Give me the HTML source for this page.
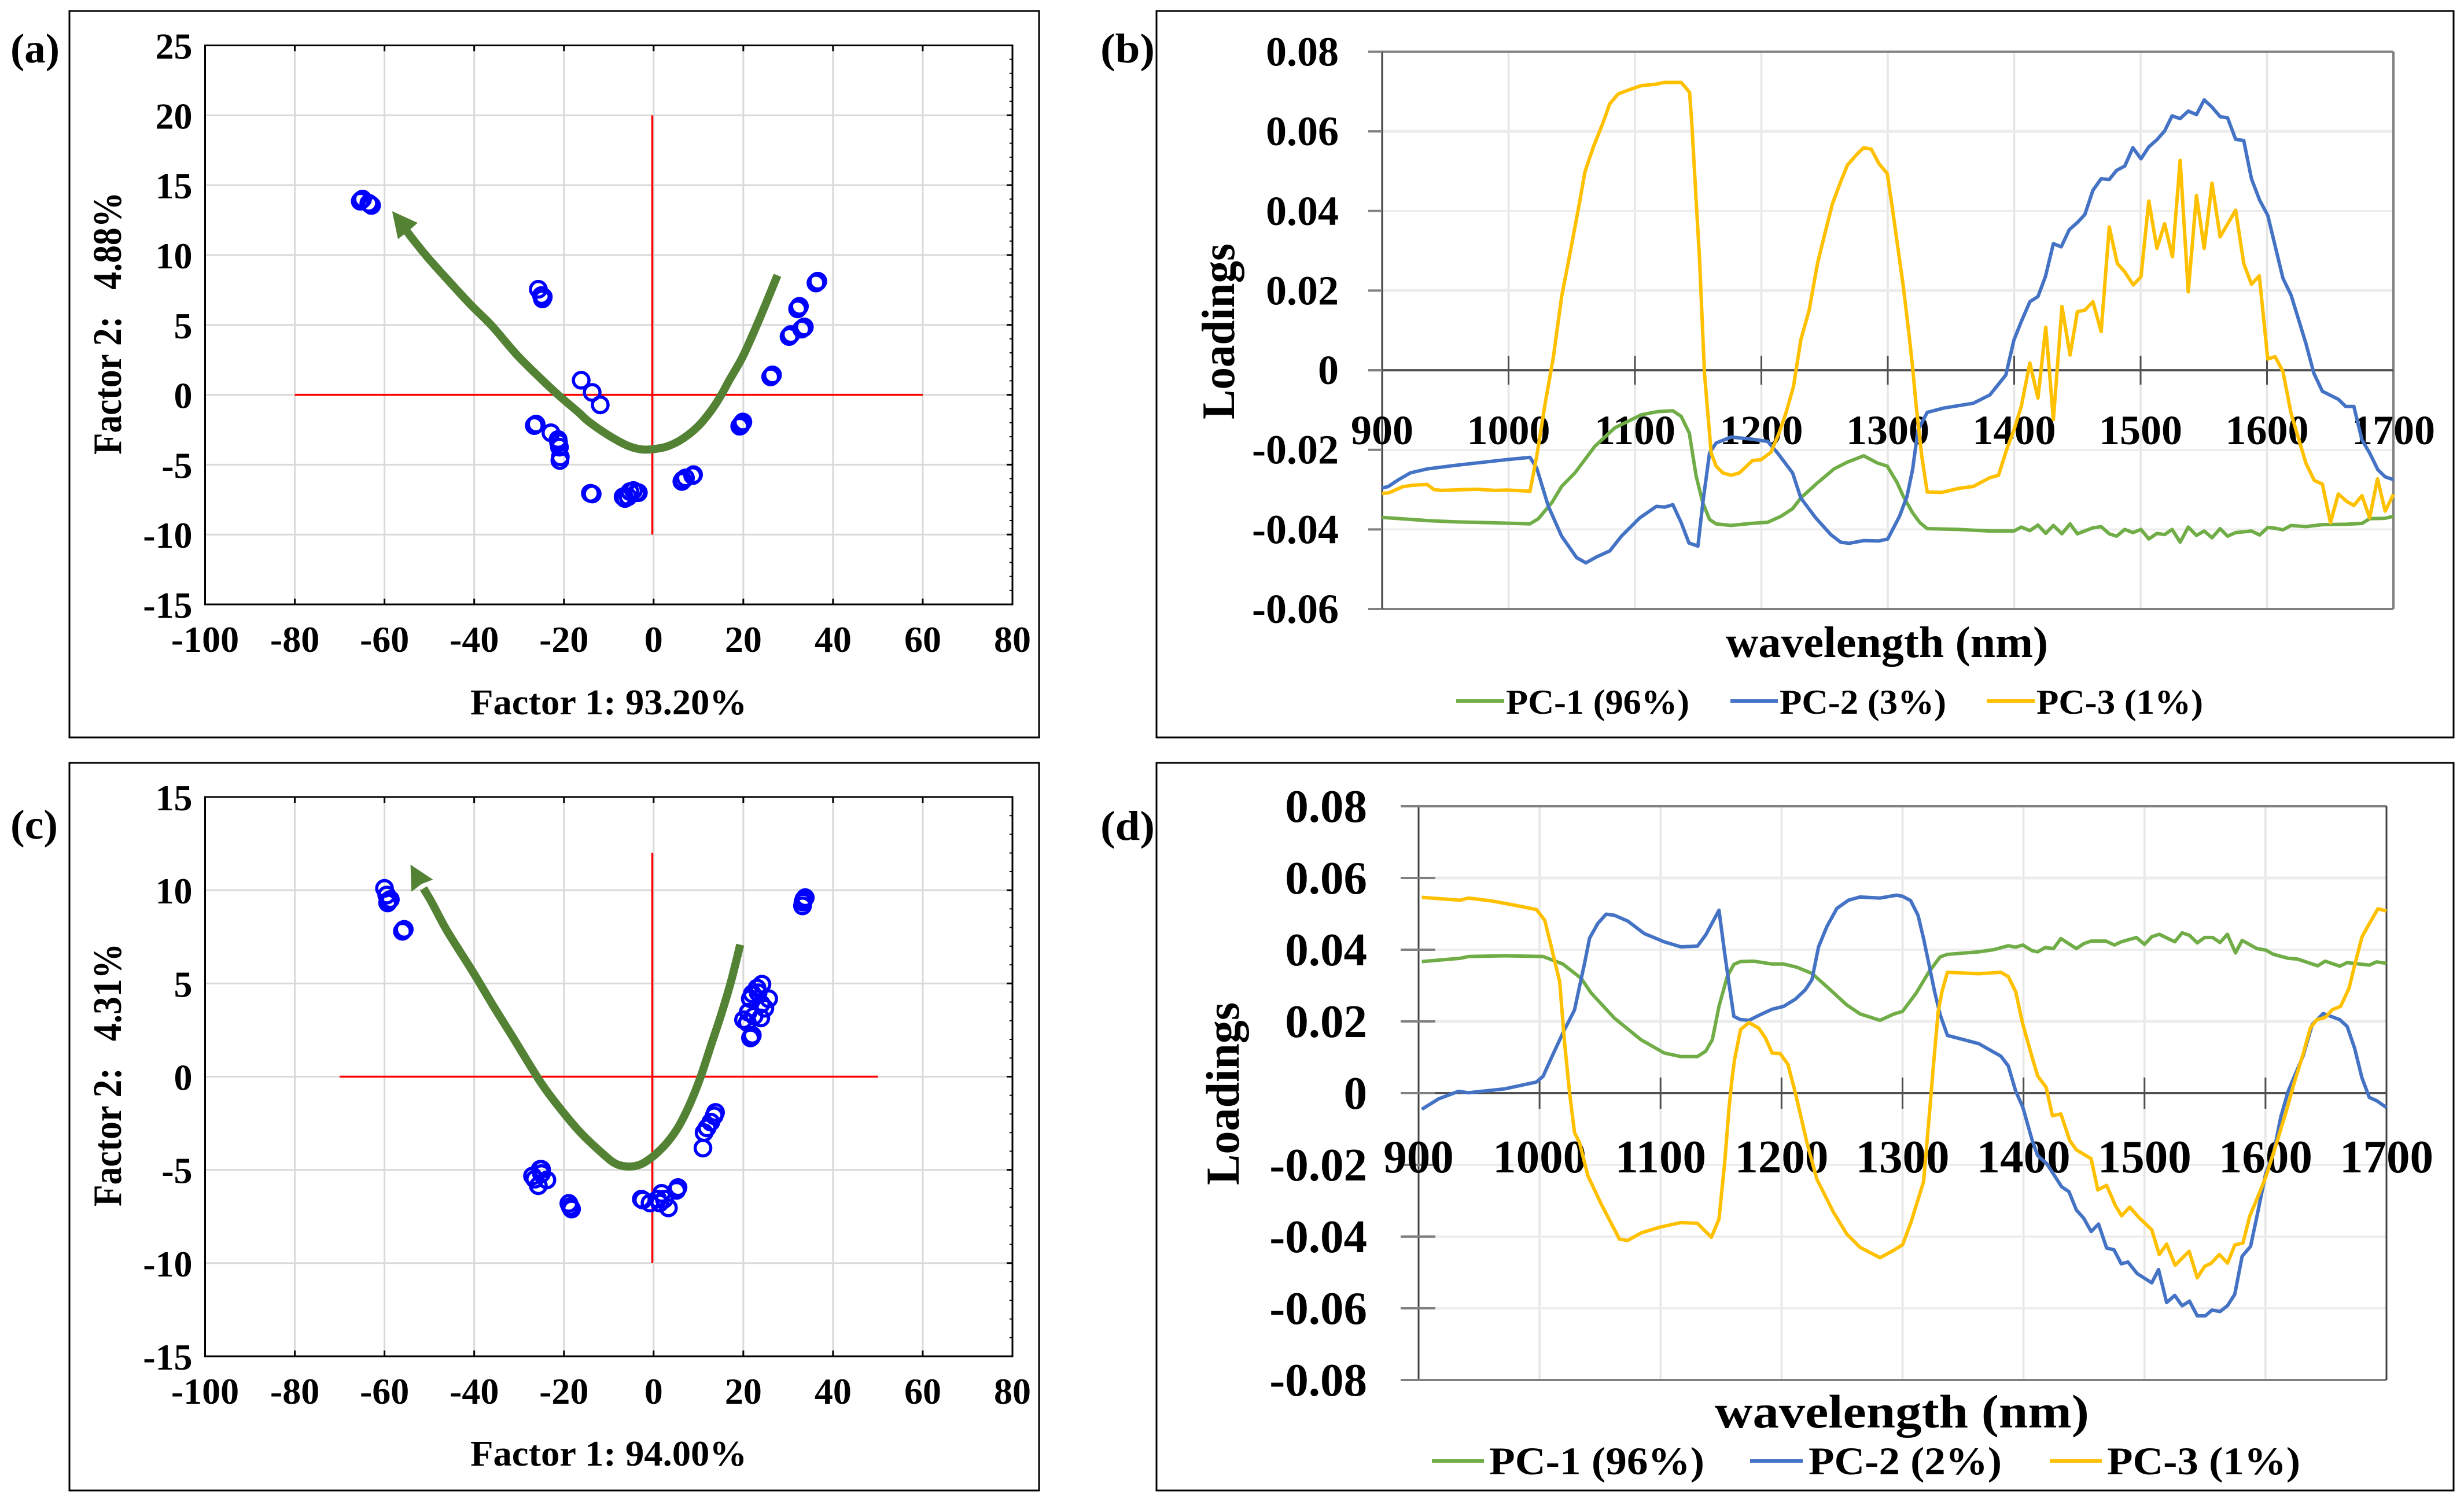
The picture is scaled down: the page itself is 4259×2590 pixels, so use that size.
<!DOCTYPE html>
<html lang="en">
<head>
<meta charset="utf-8">
<title>PCA score plots and loadings</title>
<style>
html,body{margin:0;padding:0;background:#fff;}
svg{display:block;}
text{font-family:"Liberation Serif",serif;font-weight:bold;fill:#000;}
</style>
</head>
<body>
<svg id="figure" xmlns="http://www.w3.org/2000/svg" width="4259" height="2590" viewBox="0 0 4259 2590">
  <rect x="0" y="0" width="4259" height="2590" fill="#fff"/>
  <rect x="120" y="19" width="1676" height="1256" fill="none" stroke="#000" stroke-width="3"/>
  <rect x="1999" y="19" width="2242" height="1256" fill="none" stroke="#000" stroke-width="3"/>
  <rect x="120" y="1319" width="1676" height="1258" fill="none" stroke="#000" stroke-width="3"/>
  <rect x="1999" y="1319" width="2242" height="1258" fill="none" stroke="#000" stroke-width="3"/>
  <g id="plots"></g>

  <text x="18" y="108" font-size="72" textLength="85" lengthAdjust="spacingAndGlyphs">(a)</text>
  <text x="1902" y="108" font-size="72" textLength="94" lengthAdjust="spacingAndGlyphs">(b)</text>
  <text x="18" y="1450" font-size="72" textLength="82" lengthAdjust="spacingAndGlyphs">(c)</text>
  <text x="1902" y="1452" font-size="72" textLength="94" lengthAdjust="spacingAndGlyphs">(d)</text>

  <text x="813" y="1235" font-size="62" textLength="478" lengthAdjust="spacingAndGlyphs">Factor 1: 93.20%</text>
  <text transform="translate(209,786) rotate(-90)" x="0" y="0" font-size="70" textLength="454" lengthAdjust="spacingAndGlyphs">Factor 2:&#160;&#160;&#160;4.88%</text>
  <text x="813" y="2534" font-size="62" textLength="478" lengthAdjust="spacingAndGlyphs">Factor 1: 94.00%</text>
  <text transform="translate(209,2086) rotate(-90)" x="0" y="0" font-size="70" textLength="455" lengthAdjust="spacingAndGlyphs">Factor 2:&#160;&#160;&#160;4.31%</text>

  <text x="2983" y="1136" font-size="76" textLength="557" lengthAdjust="spacingAndGlyphs">wavelength (nm)</text>
  <text transform="translate(2133,725) rotate(-90)" x="0" y="0" font-size="80" textLength="304" lengthAdjust="spacingAndGlyphs">Loadings</text>
  <text x="2964" y="2468" font-size="82" textLength="647" lengthAdjust="spacingAndGlyphs">wavelength (nm)</text>
  <text transform="translate(2141,2049) rotate(-90)" x="0" y="0" font-size="82" textLength="316" lengthAdjust="spacingAndGlyphs">Loadings</text>

  <g>
    <line x1="2517" x2="2600" y1="1212" y2="1212" stroke="#70ad47" stroke-width="6"/>
    <text x="2603" y="1234" font-size="60" textLength="317" lengthAdjust="spacingAndGlyphs">PC-1 (96%)</text>
    <line x1="2991" x2="3073" y1="1212" y2="1212" stroke="#4472c4" stroke-width="6"/>
    <text x="3076" y="1234" font-size="60" textLength="288" lengthAdjust="spacingAndGlyphs">PC-2 (3%)</text>
    <line x1="3434" x2="3517" y1="1212" y2="1212" stroke="#ffc000" stroke-width="6"/>
    <text x="3520" y="1234" font-size="60" textLength="288" lengthAdjust="spacingAndGlyphs">PC-3 (1%)</text>
  </g>
  <g>
    <line x1="2475" x2="2565" y1="2526" y2="2526" stroke="#70ad47" stroke-width="6"/>
    <text x="2574" y="2549" font-size="68" textLength="372" lengthAdjust="spacingAndGlyphs">PC-1 (96%)</text>
    <line x1="3025" x2="3116" y1="2526" y2="2526" stroke="#4472c4" stroke-width="6"/>
    <text x="3126" y="2549" font-size="68" textLength="334" lengthAdjust="spacingAndGlyphs">PC-2 (2%)</text>
    <line x1="3543" x2="3633" y1="2526" y2="2526" stroke="#ffc000" stroke-width="6"/>
    <text x="3642" y="2549" font-size="68" textLength="334" lengthAdjust="spacingAndGlyphs">PC-3 (1%)</text>
  </g>
</svg>
<script>
// ---------- tick values ----------
const scatterXTicks = [-100,-80,-60,-40,-20,0,20,40,60,80];
const aYTicks = [25,20,15,10,5,0,-5,-10,-15];
const cYTicks = [15,10,5,0,-5,-10,-15];
const bYTicks = [0.08,0.06,0.04,0.02,0,-0.02,-0.04,-0.06];
const dYTicks = [0.08,0.06,0.04,0.02,0,-0.02,-0.04,-0.06,-0.08];
const wavelengthTicks = [900,1000,1100,1200,1300,1400,1500,1600,1700];

// ---------- panel (a) scores ----------
const aScoresX = [-65.2,-65.4,-64.9,-63.2,-63.5,-62.9,-25.7,-24.8,-24.6,-25,-16.15,-13.7,-11.9,-26.4,-26.2,-26.6,-22.9,-21.2,-21,-21.3,-20.8,-20.9,-13.9,-13.7,-14.1,-6.4,-5.3,-3.8,-5.7,-6.8,-4.5,-3.4,6.5,7.1,8.9,6.3,8.7,19.55,19.4,19.9,19.2,26.3,26.5,26.1,30.4,30.6,30.2,33.4,33,33.6,32.3,32.1,32.5,36.5,36.2,36.6];
const aScoresY = [13.93,13.85,14,13.63,13.7,13.55,7.55,6.86,7,7.1,1.04,0.17,-0.72,-2.14,-2.1,-2.2,-2.72,-3.41,-3.75,-3.2,-4.45,-4.7,-7.07,-7.1,-7.05,-7.42,-6.93,-7,-7.3,-7.3,-6.85,-7,-6.1,-5.95,-5.72,-6.2,-5.78,-2.1,-2.2,-1.95,-2.25,1.35,1.42,1.28,4.24,4.31,4.17,4.79,4.7,4.85,6.24,6.15,6.33,8.08,8,8.13];
const aRedHX = [-80,60];
const aRedVY = [20,-10];
const originCrossX = -0.3;
const aTrendX = [27.6,25.2,22.85,19.85,16.8,15.1,12.96,9.96,6.5,3.07,-0.36,-2.94,-5.96,-10.25,-14.55,-16.7,-21.2,-25.3,-30.5,-36.05,-40.8,-45.95,-50.2,-53.7,-55];
const aTrendY = [8.55,6.66,4.86,2.72,1.0,0,-1.07,-2.24,-3.14,-3.69,-3.9,-3.9,-3.62,-2.86,-1.9,-1.27,-0.03,1.2,2.86,4.93,6.45,8.24,9.76,11.14,11.7];
const aArrowX = [-58.3,-52.6,-54.75,-57];
const aArrowY = [13.14,12.3,11.7,11.14];

// ---------- panel (c) scores ----------
const cScoresX = [-60,-59.5,-59,-58.7,-59.3,-55.8,-56,-55.6,33.8,33.3,33.2,33.5,24.15,23.06,22,21.56,25.65,24.8,21.1,23.9,20.05,22.4,21.8,22,21.6,23.3,24,20.9,13.8,13.5,12.75,11.9,11.25,11,5.44,5.1,1.78,2.4,-2.73,-2.4,-0.8,3.3,1.35,0.9,-25.3,-25,-23.8,-27,-25.7,-25,-26.5,-18.9,-18.3,-18.6];
const cScoresY = [10.1,9.74,9.45,9.5,9.32,7.87,7.8,7.9,9.6,9.36,9.16,9.5,4.96,4.75,4.44,4.18,4.18,3.67,3.46,3.15,3.05,3.25,2.12,2.22,2.08,4.5,3.9,2.9,-1.92,-2.1,-2.44,-2.75,-3,-3.83,-5.95,-6.1,-6.26,-6.57,-6.57,-6.62,-6.78,-7.04,-6.78,-6.57,-4.97,-4.97,-5.54,-5.33,-5.85,-5.2,-5.5,-6.8,-7.1,-6.97];
const cRedHX = [-70,50];
const cRedVY = [12,-10];
const cTrendX = [19.3,17.26,15.1,12.75,10.5,8.2,5.65,3.07,0.06,-2.94,-5.74,-8.54,-11.54,-16.3,-21,-25.3,-31.3,-35.6,-40.35,-45.95,-49.4,-51.3];
const cTrendY = [7.08,5.11,3.36,1.65,0,-1.4,-2.64,-3.52,-4.24,-4.71,-4.82,-4.66,-4.09,-3,-1.66,-0.26,2.08,3.74,5.64,7.78,9.32,10.1];
const cArrowX = [-54.2,-49.2,-51.75,-54];
const cArrowY = [11.37,10.57,10.33,9.92];

// ---------- panel (b) loadings ----------
const bPC1Wl = [900,905.4,937,958,984,1017,1023.6,1034.2,1042,1052.5,1068.3,1084,1105,1118,1130,1136.6,1143,1148.4,1153.7,1159,1164.2,1176,1191.8,1205,1215.5,1224.7,1231.2,1244.4,1257.5,1268,1281,1291.7,1299.6,1307.5,1312.3,1319.6,1325.4,1331.2,1356,1380.8,1399.8,1405.6,1412.4,1418.8,1425,1431,1437.8,1444.2,1450,1462.3,1468.8,1475.2,1481,1487.5,1493.9,1500.3,1506.5,1512.9,1519,1524.9,1531.3,1537.7,1544.2,1550.3,1556.5,1562.9,1568.8,1575.2,1587.7,1594.2,1600.6,1606.4,1612.6,1619,1630.7,1643.8,1662.8,1675.1,1681.2,1693.5,1700];
const bPC1Val = [-0.0370,-0.0371,-0.0378,-0.0381,-0.0383,-0.0386,-0.0373,-0.0333,-0.0292,-0.0258,-0.0191,-0.0145,-0.0112,-0.0104,-0.0102,-0.0116,-0.0158,-0.0266,-0.0333,-0.0375,-0.0386,-0.0390,-0.0385,-0.0382,-0.0367,-0.0348,-0.0321,-0.0283,-0.0248,-0.0231,-0.0215,-0.0233,-0.0241,-0.0283,-0.0317,-0.0358,-0.0383,-0.0398,-0.0400,-0.0404,-0.0404,-0.0394,-0.0403,-0.0389,-0.0410,-0.0390,-0.0411,-0.0386,-0.0411,-0.0396,-0.0393,-0.0411,-0.0417,-0.0400,-0.0408,-0.0400,-0.0424,-0.0410,-0.0413,-0.0400,-0.0432,-0.0394,-0.0415,-0.0404,-0.0421,-0.0398,-0.0417,-0.0408,-0.0404,-0.0414,-0.0395,-0.0397,-0.0401,-0.0390,-0.0393,-0.0388,-0.0387,-0.0385,-0.0373,-0.0372,-0.0367];
const bPC2Wl = [900,905,913,922.3,935.6,958,997.4,1017,1022.3,1031.5,1042,1053.9,1061.2,1069.6,1080.1,1089.3,1103.8,1117,1123.5,1130,1136.6,1142.7,1149.8,1153.7,1159,1164.2,1176,1191.8,1205,1212.8,1224.7,1231.2,1243,1254.9,1262.7,1269.3,1281.1,1293,1300,1309.3,1315.2,1319.6,1323.9,1331.2,1344.4,1367.7,1380.8,1393.4,1399.8,1405.6,1412.4,1418.8,1424.7,1431,1437.2,1443.6,1450,1455.9,1462.3,1468.8,1475.2,1481,1487.5,1493.9,1500.3,1506.5,1512.9,1519,1524.9,1531.3,1537.7,1544.2,1550.3,1556.5,1562.9,1568.8,1575.2,1581.6,1587.7,1594.2,1600.6,1612.6,1619,1630.7,1637.1,1643.8,1656.4,1662.2,1668.7,1675.1,1681.2,1687.7,1693.5,1700];
const bPC2Val = [-0.0296,-0.0292,-0.0275,-0.0258,-0.0248,-0.0239,-0.0225,-0.0219,-0.0246,-0.0342,-0.0417,-0.0471,-0.0484,-0.0469,-0.0454,-0.0417,-0.0371,-0.0342,-0.0344,-0.0338,-0.0383,-0.0434,-0.0442,-0.0333,-0.0208,-0.0183,-0.0168,-0.0173,-0.0179,-0.0208,-0.0258,-0.0321,-0.0371,-0.0413,-0.0432,-0.0435,-0.0428,-0.0429,-0.0424,-0.0367,-0.0317,-0.0250,-0.0150,-0.0106,-0.0095,-0.0083,-0.0062,-0.0012,0.0076,0.0122,0.0172,0.0185,0.0235,0.0318,0.0310,0.0353,0.0371,0.0391,0.0452,0.0481,0.0479,0.0502,0.0513,0.0559,0.0531,0.0561,0.0579,0.0601,0.0639,0.0632,0.0651,0.0642,0.0679,0.0661,0.0637,0.0634,0.0580,0.0577,0.0481,0.0427,0.0389,0.0231,0.0189,0.0068,-0.0008,-0.0053,-0.0073,-0.0091,-0.0091,-0.0175,-0.0208,-0.0250,-0.0268,-0.0275];
const bPC3Wl = [900,905.4,916,924,935.6,941,947,974,989.5,998.7,1017,1022.3,1029,1035.5,1042,1048.6,1056.5,1060.4,1067,1074.9,1080,1086.7,1095.9,1105,1115.6,1123.5,1136.6,1143.2,1145,1148.4,1151,1155,1160.3,1164.2,1169.5,1176,1182.6,1193,1199.7,1207.6,1214,1219.4,1225.4,1231.2,1237.8,1244.4,1249.6,1256.2,1262.7,1268,1276,1281,1287,1293,1299.6,1303.5,1307.9,1312.3,1316.7,1319.6,1322.5,1326.9,1331.2,1342.9,1356,1367.7,1380.8,1387.6,1394,1399.8,1405.6,1412.4,1418.8,1425,1431,1437.8,1444.2,1450,1455.9,1462.3,1468.8,1475.2,1481.6,1487.5,1494.2,1500.3,1506.5,1512.9,1519,1525.2,1531.3,1537.7,1544.2,1550.3,1556.5,1562.9,1575.2,1581.6,1587.7,1593.9,1600.6,1606.4,1612.6,1619,1630.7,1637.4,1643.8,1650.2,1656.4,1662.8,1668.7,1675.1,1681.2,1687.4,1693.5,1700];
const bPC3Val = [-0.0310,-0.0308,-0.0293,-0.0289,-0.0287,-0.0300,-0.0302,-0.0299,-0.0302,-0.0301,-0.0304,-0.0216,-0.0083,0.0034,0.0185,0.0293,0.0427,0.0498,0.0560,0.0623,0.0669,0.0694,0.0705,0.0715,0.0718,0.0723,0.0723,0.0698,0.0619,0.0427,0.0285,-0.0008,-0.0208,-0.0241,-0.0258,-0.0264,-0.0258,-0.0227,-0.0225,-0.0206,-0.0158,-0.0108,-0.0041,0.0076,0.0151,0.0268,0.0335,0.0418,0.0473,0.0515,0.0544,0.0559,0.0555,0.0519,0.0494,0.0410,0.0310,0.0210,0.0093,0.0009,-0.0091,-0.0216,-0.0306,-0.0307,-0.0297,-0.0292,-0.0270,-0.0264,-0.0200,-0.0150,-0.0091,0.0018,-0.0070,0.0108,-0.0124,0.0160,0.0038,0.0147,0.0151,0.0172,0.0097,0.0360,0.0268,0.0247,0.0214,0.0235,0.0425,0.0306,0.0368,0.0285,0.0527,0.0197,0.0439,0.0306,0.0470,0.0335,0.0402,0.0268,0.0216,0.0237,0.0028,0.0034,-0.0003,-0.0108,-0.0233,-0.0277,-0.0286,-0.0383,-0.0311,-0.0329,-0.0340,-0.0315,-0.0371,-0.0273,-0.0354,-0.0312];

// ---------- panel (d) loadings ----------
const dPC1Wl = [902.7,934.3,941.2,971.3,1002.9,1019.3,1034.4,1042.7,1061.9,1083.8,1103,1116.7,1130.5,1137.3,1142.8,1148.3,1155.1,1160.6,1166.1,1177.1,1192.2,1201.8,1212.8,1225.1,1237.4,1253.9,1264.9,1281.4,1292.3,1300,1311.3,1322,1331.1,1337.1,1363,1375.2,1387.4,1393.5,1399.5,1407.2,1411.7,1417.8,1424.8,1430.9,1443.7,1449.8,1455.9,1468.1,1475.1,1480.8,1493.3,1500,1506,1512.2,1525,1531.1,1537.2,1543.6,1549.7,1556.4,1562.4,1568.5,1575.2,1580.7,1592.9,1600.2,1606.6,1618.8,1626.4,1643.2,1649.3,1661.4,1667.5,1685.8,1691.8,1700];
const dPC1Val = [0.0367,0.0376,0.0381,0.0383,0.0381,0.0360,0.0320,0.0279,0.0209,0.0149,0.0112,0.0102,0.0102,0.0117,0.0149,0.0242,0.0325,0.0359,0.0367,0.0368,0.0360,0.0360,0.0351,0.0334,0.0297,0.0246,0.0221,0.0203,0.0220,0.0228,0.0279,0.0339,0.0380,0.0387,0.0394,0.0400,0.0411,0.0407,0.0413,0.0397,0.0394,0.0406,0.0403,0.0431,0.0403,0.0417,0.0424,0.0424,0.0413,0.0422,0.0434,0.0415,0.0436,0.0443,0.0422,0.0447,0.0440,0.0419,0.0434,0.0434,0.0420,0.0443,0.0391,0.0426,0.0403,0.0399,0.0387,0.0376,0.0374,0.0355,0.0368,0.0354,0.0364,0.0357,0.0366,0.0362];
const dPC2Wl = [902.7,916.5,932.9,941.2,971.3,997.4,1002.9,1009.7,1019.3,1028.9,1033,1037.2,1041.3,1048.1,1055,1061.9,1072.8,1086.6,1103,1116.7,1130.5,1137.3,1148.3,1153,1156.5,1160.6,1166.1,1173,1182.6,1192.2,1201.8,1211.4,1219.6,1225.1,1230.6,1237.4,1245.7,1255.3,1264.9,1281.4,1295,1300,1306.7,1312.8,1317.4,1322,1326.5,1331.1,1337.1,1363,1381.3,1387.4,1393.5,1399.5,1407.2,1411.7,1419.3,1431.5,1437.6,1443.7,1449.8,1455.9,1462,1468.7,1474.8,1480.8,1486.3,1493.9,1506,1511.6,1518.3,1525,1531.1,1537.2,1543.6,1550.3,1555.7,1562.4,1568.5,1574.6,1580.7,1587.7,1592.9,1600.2,1606.6,1612.6,1618.8,1631,1638.6,1647.7,1661.4,1667.5,1673.6,1679.7,1685.8,1691.8,1700];
const dPC2Val = [-0.0045,-0.0016,0.0005,0.0001,0.0012,0.0031,0.0047,0.0098,0.0168,0.0232,0.0297,0.0362,0.0432,0.0473,0.0499,0.0496,0.0480,0.0445,0.0422,0.0408,0.0410,0.0441,0.0510,0.0390,0.0307,0.0214,0.0205,0.0203,0.0219,0.0234,0.0242,0.0262,0.0288,0.0316,0.0408,0.0464,0.0515,0.0538,0.0547,0.0544,0.0552,0.0549,0.0537,0.0496,0.0431,0.0357,0.0283,0.0219,0.0161,0.0138,0.0103,0.0076,0.0006,-0.0040,-0.0132,-0.0174,-0.0197,-0.0261,-0.0275,-0.0326,-0.0349,-0.0386,-0.0365,-0.0432,-0.0437,-0.0476,-0.0471,-0.0503,-0.0529,-0.0492,-0.0584,-0.0564,-0.0593,-0.0580,-0.0621,-0.0621,-0.0605,-0.0609,-0.0593,-0.0561,-0.0455,-0.0427,-0.0344,-0.0224,-0.0169,-0.0067,0.0006,0.0103,0.0191,0.0222,0.0205,0.0186,0.0126,0.0043,-0.0012,-0.0021,-0.0040];
const dPC3Wl = [902.7,934.3,941.2,960.4,979.6,997.4,1004.3,1009.7,1016.6,1020.7,1024.8,1028.9,1033,1040,1050.9,1066,1072.8,1083.8,1099.2,1116.7,1130.5,1142,1148.3,1153,1156.5,1159.3,1161.2,1166.1,1173,1181.2,1186.7,1192.2,1199,1205.3,1211.4,1221,1229.2,1242.9,1253.9,1264.9,1281.4,1292.3,1300,1306.7,1317.4,1322,1325.6,1329.5,1332.6,1337.1,1363,1381.3,1387.4,1393.5,1399.5,1407.2,1411.7,1418.7,1423.9,1430.9,1438.2,1443.7,1455.9,1461.4,1468.7,1475.7,1481.1,1487.8,1495.4,1506,1512.2,1518.3,1525.3,1536.9,1543.6,1549.7,1554.9,1561.9,1568.6,1574.7,1581.4,1586.9,1596,1600.2,1608.2,1617.3,1623.4,1631,1637.1,1642.6,1649.3,1655.4,1662.1,1669.1,1673.7,1679.8,1685.9,1692.9,1700];
const dPC3Val = [0.0546,0.0538,0.0544,0.0536,0.0524,0.0512,0.0482,0.0408,0.0311,0.0140,0.0001,-0.0110,-0.0138,-0.0231,-0.0309,-0.0407,-0.0411,-0.0390,-0.0374,-0.0361,-0.0363,-0.0402,-0.0351,-0.0194,-0.0045,0.0047,0.0094,0.0177,0.0197,0.0181,0.0154,0.0112,0.0110,0.0080,0.0001,-0.0138,-0.0240,-0.0332,-0.0393,-0.0430,-0.0459,-0.0439,-0.0423,-0.0363,-0.0247,-0.0067,0.0080,0.0228,0.0283,0.0337,0.0333,0.0337,0.0325,0.0283,0.0191,0.0099,0.0048,0.0016,-0.0063,-0.0058,-0.0132,-0.0158,-0.0183,-0.0270,-0.0257,-0.0312,-0.0342,-0.0318,-0.0347,-0.0381,-0.0450,-0.0421,-0.0480,-0.0441,-0.0515,-0.0483,-0.0475,-0.0450,-0.0474,-0.0423,-0.0418,-0.0344,-0.0270,-0.0234,-0.0150,-0.0049,0.0025,0.0108,0.0182,0.0205,0.0211,0.0233,0.0242,0.0293,0.0357,0.0436,0.0473,0.0514,0.0508];

// ---------- drawing ----------
const NS = 'http://www.w3.org/2000/svg';
const root = document.getElementById('plots');

function make(tag, attrs, parent) {
  const el = document.createElementNS(NS, tag);
  for (const k in attrs) el.setAttribute(k, attrs[k]);
  (parent || root).appendChild(el);
  return el;
}
function linearScale(d0, d1, p0, p1) {
  return v => p0 + (v - d0) * (p1 - p0) / (d1 - d0);
}
function smoothPath(xs, ys) {
  let d = 'M' + xs[0] + ' ' + ys[0];
  for (let i = 0; i < xs.length - 1; i++) {
    const a = Math.max(i - 1, 0), b = Math.min(i + 2, xs.length - 1);
    const c1x = xs[i] + (xs[i + 1] - xs[a]) / 6, c1y = ys[i] + (ys[i + 1] - ys[a]) / 6;
    const c2x = xs[i + 1] - (xs[b] - xs[i]) / 6, c2y = ys[i + 1] - (ys[b] - ys[i]) / 6;
    d += ' C' + c1x + ' ' + c1y + ' ' + c2x + ' ' + c2y + ' ' + xs[i + 1] + ' ' + ys[i + 1];
  }
  return d;
}

function drawScatter(id, box, yMax, yMin, yTicks, px, py, hx, vy, tx, ty, ax, ay) {
  const X = linearScale(-100, 80, box.l, box.r);
  const Y = linearScale(yMax, yMin, box.t, box.b);
  const g = make('g', {});
  
  

  scatterXTicks.forEach(v => {
    if (v !== -100 && v !== 80) {
      const line = make('line', {x1: X(v), x2: X(v), y1: box.t, y2: box.b, stroke: '#d9d9d9', 'stroke-width': 3}, g);
      
      
      const tick = make('line', {x1: X(v), x2: X(v), y1: box.t, y2: box.t + 10, stroke: '#000', 'stroke-width': 3}, g);
      
      
      const tick2 = make('line', {x1: X(v), x2: X(v), y1: box.b, y2: box.b - 10, stroke: '#000', 'stroke-width': 3}, g);
      
      
    }
    const label = make('text', {x: X(v), y: box.b + 82, 'font-size': 64, 'text-anchor': 'middle'}, g);
    label.textContent = String(v);
    
    
  });
  yTicks.forEach(v => {
    if (v !== yMax && v !== yMin) {
      const line = make('line', {x1: box.l, x2: box.r, y1: Y(v), y2: Y(v), stroke: '#d9d9d9', 'stroke-width': 3}, g);
      
      
      const tick = make('line', {x1: box.r, x2: box.r - 10, y1: Y(v), y2: Y(v), stroke: '#000', 'stroke-width': 3}, g);
      
      
    }
    const label = make('text', {x: box.l - 22, y: Y(v) + 23, 'font-size': 64, 'text-anchor': 'end'}, g);
    label.textContent = String(v);
    
    
  });
  for (let v = yMin + 1; v < yMax; v++) {
    const minor = make('line', {x1: box.r, x2: box.r - 5, y1: Y(v), y2: Y(v), stroke: '#000', 'stroke-width': 2}, g);
    
    
  }
  const border = make('rect', {x: box.l, y: box.t, width: box.r - box.l, height: box.b - box.t, fill: 'none', stroke: '#000', 'stroke-width': 3}, g);
  
  

  const redH = make('line', {x1: X(hx[0]), x2: X(hx[1]), y1: Y(0), y2: Y(0), stroke: '#ff0000', 'stroke-width': 3.5}, g);
  
  
  const redV = make('line', {x1: X(originCrossX), x2: X(originCrossX), y1: Y(vy[0]), y2: Y(vy[1]), stroke: '#ff0000', 'stroke-width': 3.5}, g);
  
  

  px.forEach((v, i) => {
    const c = make('ellipse', {cx: X(v), cy: Y(py[i]), rx: 13.5, ry: 13.5, fill: 'none', stroke: '#0000ff', 'stroke-width': 5.5}, g);
    
    
  });

  const trend = make('path', {d: smoothPath(tx.map(X), ty.map(Y)), fill: 'none', stroke: '#548235', 'stroke-width': 14}, g);
  
  
  const head = make('polygon', {points: ax.map((v, i) => X(v) + ',' + Y(ay[i])).join(' '), fill: '#548235'}, g);
  
  
}

function drawLoadings(id, box, yMax, yMin, yTicks, style, series) {
  const X = linearScale(900, 1700, box.l, box.r);
  const Y = linearScale(yMax, yMin, box.t, box.b);
  const g = make('g', {});
  
  

  wavelengthTicks.forEach(v => {
    if (v !== 900 && v !== 1700) {
      const grid = make('line', {x1: X(v), x2: X(v), y1: box.t, y2: box.b, stroke: '#e6e6e6', 'stroke-width': 3.5}, g);
      
      
    }
  });
  yTicks.forEach(v => {
    if (v !== yMax && v !== yMin && v !== 0) {
      const grid = make('line', {x1: box.l, x2: box.r, y1: Y(v), y2: Y(v), stroke: '#ececec', 'stroke-width': v === 0.06 || v === 0.02 ? 5 : 3.5}, g);
      
      
    }
  });
  const top = make('line', {x1: box.l - style.tickOut, x2: box.r, y1: box.t, y2: box.t, stroke: '#808080', 'stroke-width': 4}, g);
  
  
  const bottom = make('line', {x1: box.l - style.tickOut, x2: box.r, y1: box.b, y2: box.b, stroke: '#808080', 'stroke-width': 4}, g);
  
  
  const right = make('line', {x1: box.r, x2: box.r, y1: box.t, y2: box.b, stroke: style.rightColor, 'stroke-width': style.rightWidth}, g);
  
  
  const left = make('line', {x1: box.l, x2: box.l, y1: box.t, y2: box.b, stroke: '#404040', 'stroke-width': 3}, g);
  
  
  const zero = make('line', {x1: box.l - style.tickOut, x2: box.r, y1: Y(0), y2: Y(0), stroke: '#505050', 'stroke-width': 4}, g);
  
  

  yTicks.forEach(v => {
    const tick = make('line', {x1: box.l - style.tickOut, x2: box.l + style.tickIn, y1: Y(v), y2: Y(v), stroke: '#808080', 'stroke-width': 4}, g);
    
    
    const label = make('text', {x: style.yLabelRight, y: Y(v) + style.yLabelDy, 'font-size': style.tickFont, 'text-anchor': 'end'}, g);
    label.textContent = v === 0 ? '0' : v.toFixed(2);
    
    
  });
  wavelengthTicks.forEach(v => {
    if (v !== 900 && v !== 1700) {
      const tick = make('line', {x1: X(v), x2: X(v), y1: Y(0) - style.vTick, y2: Y(0) + style.vTick, stroke: '#505050', 'stroke-width': 3}, g);
      
      
    }
    const label = make('text', {x: X(v), y: style.xLabelY, 'font-size': style.tickFont, 'text-anchor': 'middle'}, g);
    label.textContent = String(v);
    
    
  });
  series.forEach(s => {
    const line = make('polyline', {points: s.wl.map((w, i) => X(w) + ',' + Y(s.val[i])).join(' '), fill: 'none', stroke: s.color, 'stroke-width': 6, 'stroke-linejoin': 'round'}, g);
    
    
  });
}

drawScatter('a', {l: 354.5, r: 1750, t: 78.5, b: 1045}, 25, -15, aYTicks,
  aScoresX, aScoresY, aRedHX, aRedVY, aTrendX, aTrendY, aArrowX, aArrowY);
drawScatter('c', {l: 354.5, r: 1750, t: 1378, b: 2345}, 15, -15, cYTicks,
  cScoresX, cScoresY, cRedHX, cRedVY, cTrendX, cTrendY, cArrowX, cArrowY);

drawLoadings('b', {l: 2389, r: 4137, t: 89.5, b: 1053}, 0.08, -0.06, bYTicks,
  {tickOut: 24, tickIn: 0, vTick: 25, rightColor: '#808080', rightWidth: 4, yLabelRight: 2314, yLabelDy: 24, tickFont: 72, xLabelY: 768},
  [{key: 'pc1', wl: bPC1Wl, val: bPC1Val, color: '#70ad47'},
   {key: 'pc2', wl: bPC2Wl, val: bPC2Val, color: '#4472c4'},
   {key: 'pc3', wl: bPC3Wl, val: bPC3Val, color: '#ffc000'}]);
drawLoadings('d', {l: 2452, r: 4125, t: 1394, b: 2386}, 0.08, -0.08, dYTicks,
  {tickOut: 31, tickIn: 29, vTick: 27, rightColor: '#404040', rightWidth: 3, yLabelRight: 2363, yLabelDy: 27, tickFont: 81, xLabelY: 2027},
  [{key: 'pc1', wl: dPC1Wl, val: dPC1Val, color: '#70ad47'},
   {key: 'pc2', wl: dPC2Wl, val: dPC2Val, color: '#4472c4'},
   {key: 'pc3', wl: dPC3Wl, val: dPC3Val, color: '#ffc000'}]);
</script>
</body>
</html>
